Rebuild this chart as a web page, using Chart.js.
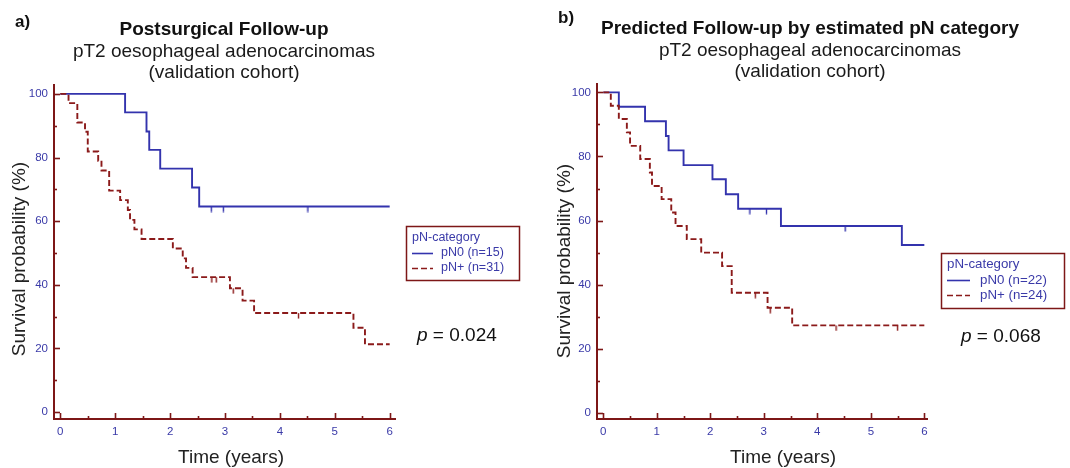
<!DOCTYPE html>
<html>
<head>
<meta charset="utf-8">
<script src="https://cdn.jsdelivr.net/npm/chart.js@4.4.0/dist/chart.umd.min.js"></script>
<style>
  html, body { margin: 0; padding: 0; background: #fff; }
  #wrap { position: relative; width: 1070px; height: 468px; }
  canvas { position: absolute; top: 0; }
</style>
</head>
<body>
<div id="wrap">
  <canvas id="kmA" width="535" height="468" style="left:0"></canvas>
  <canvas id="kmB" width="535" height="468" style="left:535px"></canvas>
</div>
<script>
/*---------------------------- data ----------------------------*/
var xTicks = [0, 1, 2, 3, 4, 5, 6];
var xMinorTicks = [0.5, 1.5, 2.5, 3.5, 4.5, 5.5];
var yTicks = [0, 20, 40, 60, 80, 100];
var yMinorTicks = [10, 30, 50, 70, 90];

// a) Postsurgical follow-up
var aN0Time = [0, 1.18, 1.57, 1.62, 1.82, 2.40, 2.53, 6.0];
var aN0Surv = [100, 94.2, 88.2, 82.4, 76.5, 70.6, 64.6, 64.6];
var aN0Cens = [2.75, 2.97, 4.51];
var aNpTime = [0, 0.15, 0.31, 0.45, 0.50, 0.69, 0.75, 0.89, 1.09, 1.23, 1.27, 1.35, 1.48,
               2.05, 2.23, 2.29, 2.41, 3.09, 3.32, 3.53, 5.34, 5.55, 6.0];
var aNpSurv = [100, 97.1, 91.0, 88.1, 81.9, 79.0, 75.9, 69.6, 66.6, 63.5, 60.4, 57.4, 54.4,
               51.4, 48.3, 45.3, 42.4, 38.9, 35.0, 31.1, 26.5, 21.3, 21.3];
var aNpCens = [2.76, 2.84, 3.15, 4.34];

// b) Predicted follow-up by estimated pN category
var bN0Time = [0, 0.29, 0.78, 1.17, 1.22, 1.50, 2.04, 2.29, 2.52, 3.32, 5.58, 6.0];
var bN0Surv = [100, 95.5, 91.0, 86.4, 81.9, 77.3, 72.9, 68.2, 63.7, 58.3, 52.4, 52.4];
var bN0Cens = [2.74, 3.05, 4.52];
var bNpTime = [0, 0.14, 0.29, 0.44, 0.50, 0.69, 0.87, 0.91, 1.09, 1.27, 1.35, 1.56, 1.83,
               2.22, 2.40, 3.07, 3.53, 6.0];
var bNpSurv = [100, 95.8, 91.7, 87.5, 83.3, 79.2, 75.0, 70.8, 66.7, 62.5, 58.3, 54.2, 50.0,
               45.8, 37.5, 32.8, 27.3, 27.3];
var bNpCens = [2.84, 3.12, 4.35, 5.50];

/*---------------------------- styling ----------------------------*/
var FONT = "'Liberation Sans', Arial, sans-serif";
var blue = '#3333ad';
var red = '#8b1a1a';
var axisRed = '#7d1717';
var tickBlue = '#3a3aa8';

// small downward tick used for censored cases
function censorMark(color) {
  var c = document.createElement('canvas');
  c.width = 3; c.height = 12;
  var g = c.getContext('2d');
  g.strokeStyle = color; g.lineWidth = 1.4;
  g.beginPath(); g.moveTo(1.5, 6); g.lineTo(1.5, 11.5); g.stroke();
  return c;
}
var blueMark = censorMark(blue);
var redMark = censorMark(red);

function survAt(times, surv, t) {
  var s = surv[0];
  for (var i = 0; i < times.length; i++) { if (times[i] <= t) s = surv[i]; }
  return s;
}
function pts(times, surv) {
  return times.map(function (t, i) { return { x: t, y: surv[i] }; });
}
function censPts(cens, times, surv) {
  return cens.map(function (t) { return { x: t, y: survAt(times, surv, t) }; });
}

function kmDatasets(n0T, n0S, n0C, npT, npS, npC, n0Label, npLabel) {
  return [
    { label: n0Label, data: pts(n0T, n0S), stepped: 'before', borderColor: blue,
      borderWidth: 1.9, pointRadius: 0, fill: false, order: 1 },
    { label: npLabel, data: pts(npT, npS), stepped: 'before', borderColor: red,
      borderWidth: 1.9, borderDash: [6, 3], pointRadius: 0, fill: false, order: 0 },
    { censor: true, data: censPts(n0C, n0T, n0S), showLine: false,
      pointStyle: blueMark, pointRadius: 5, order: 2 },
    { censor: true, data: censPts(npC, npT, npS), showLine: false,
      pointStyle: redMark, pointRadius: 5, order: 2 }
  ];
}

/*---------------------------- headings, axis titles, inner ticks, legend, p ----------------------------*/
var kmDecor = {
  id: 'kmDecor',
  afterDraw: function (chart, args, o) {
    var ctx = chart.ctx, ca = chart.chartArea;
    var xs = chart.scales.x, ys = chart.scales.y;
    ctx.save();

    // tick marks pointing into the plot
    ctx.strokeStyle = axisRed; ctx.lineWidth = 1.6;
    function xTick(v, len) {
      var px = Math.round(xs.getPixelForValue(v)) + 0.5;
      ctx.beginPath(); ctx.moveTo(px, ca.bottom); ctx.lineTo(px, ca.bottom - len); ctx.stroke();
    }
    function yTick(v, len) {
      var py = Math.round(ys.getPixelForValue(v)) + 0.5;
      ctx.beginPath(); ctx.moveTo(ca.left, py); ctx.lineTo(ca.left + len, py); ctx.stroke();
    }
    xTicks.forEach(function (v) { xTick(v, 6); });
    xMinorTicks.forEach(function (v) { xTick(v, 3); });
    yTicks.forEach(function (v) { yTick(v, 6); });
    yMinorTicks.forEach(function (v) { yTick(v, 3); });

    // axis titles
    ctx.fillStyle = '#222';
    ctx.font = '19px ' + FONT;
    ctx.textAlign = 'center';
    ctx.textBaseline = 'alphabetic';
    ctx.fillText('Time (years)', o.xTitleX, o.xTitleY);
    ctx.save();
    ctx.translate(o.yTitleX, o.yTitleY);
    ctx.rotate(-Math.PI / 2);
    ctx.textBaseline = 'middle';
    ctx.fillText('Survival probability (%)', 0, 0);
    ctx.restore();

    // headings
    ctx.fillStyle = '#111';
    ctx.textBaseline = 'alphabetic';
    ctx.textAlign = 'left';
    ctx.font = 'bold 17px ' + FONT;
    ctx.fillText(o.tag, o.tagX, o.tagY);
    ctx.textAlign = 'center';
    ctx.font = 'bold 19px ' + FONT;
    ctx.fillText(o.title, o.titleX, o.titleY);
    ctx.font = '19px ' + FONT;
    ctx.fillStyle = '#1a1a1a';
    o.subtitle.forEach(function (line, i) {
      ctx.fillText(line, o.titleX, o.subY + i * 21.5);
    });

    // legend box
    var L = o.legend;
    ctx.strokeStyle = axisRed; ctx.lineWidth = 1.5;
    ctx.strokeRect(L.x + 0.5, L.y + 0.5, L.w, L.h);
    ctx.textAlign = 'left'; ctx.textBaseline = 'middle';
    ctx.font = L.size + 'px ' + FONT;
    ctx.fillStyle = tickBlue;
    ctx.fillText('pN-category', L.x + 6, L.rows[0]);
    var entries = chart.data.datasets.filter(function (d) { return !d.censor; });
    entries.forEach(function (d, i) {
      var y = Math.round(L.rows[i + 1]) + 0.5;
      ctx.strokeStyle = d.borderColor; ctx.lineWidth = 1.6;
      ctx.setLineDash(d.borderDash || []);
      ctx.beginPath(); ctx.moveTo(L.x + 6, y); ctx.lineTo(L.x + 6 + L.sample, y); ctx.stroke();
      ctx.setLineDash([]);
      ctx.fillStyle = tickBlue;
      ctx.fillText(d.label, L.x + L.textOff, L.rows[i + 1]);
    });

    // log-rank p value
    ctx.fillStyle = '#111'; ctx.textBaseline = 'alphabetic';
    ctx.font = 'italic 19px ' + FONT;
    ctx.fillText('p', o.pX, o.pY);
    var w = ctx.measureText('p').width;
    ctx.font = '19px ' + FONT;
    ctx.fillText(' = ' + o.p, o.pX + w, o.pY);
    ctx.restore();
  }
};

function kmOptions(xr, yr, pad, yW, deco) {
  return {
    responsive: false,
    animation: false,
    devicePixelRatio: 1,
    layout: { padding: pad },
    plugins: { legend: { display: false }, tooltip: { enabled: false }, kmDecor: deco },
    scales: {
      x: {
        type: 'linear', min: xr[0], max: xr[1],
        grid: { display: false, drawTicks: false },
        border: { color: axisRed, width: 2 },
        afterBuildTicks: function (s) { s.ticks = xTicks.map(function (v) { return { value: v }; }); },
        afterFit: function (s) { s.height = 49; },
        ticks: { color: tickBlue, font: { family: FONT, size: 11.5 }, padding: 5.5, maxRotation: 0 }
      },
      y: {
        type: 'linear', min: yr[0], max: yr[1],
        grid: { display: false, drawTicks: false },
        border: { color: axisRed, width: 2 },
        afterBuildTicks: function (s) { s.ticks = yTicks.map(function (v) { return { value: v }; }); },
        afterFit: function (s) { s.width = yW; },
        ticks: { color: tickBlue, font: { family: FONT, size: 11.5 }, padding: 6 }
      }
    }
  };
}

/*---------------------------- a) ----------------------------*/
new Chart('kmA', {
  type: 'line',
  data: { datasets: kmDatasets(aN0Time, aN0Surv, aN0Cens, aNpTime, aNpSurv, aNpCens,
                               'pN0 (n=15)', 'pN+ (n=31)') },
  options: kmOptions([-0.115, 6.097], [-2.2, 102.8], { top: 85, right: 140, bottom: 0, left: 0 }, 54, {
    tag: 'a)', tagX: 15, tagY: 27,
    title: 'Postsurgical Follow-up', titleX: 224, titleY: 34.5,
    subtitle: ['pT2 oesophageal adenocarcinomas', '(validation cohort)'], subY: 56.7,
    xTitleX: 231, xTitleY: 463, yTitleX: 20, yTitleY: 259,
    legend: { x: 406, y: 226, w: 113, h: 54, size: 12.5, rows: [238, 253, 268], sample: 21, textOff: 35 },
    p: '0.024', pX: 417, pY: 341
  }),
  plugins: [kmDecor]
});

/*---------------------------- b) ----------------------------*/
new Chart('kmB', {
  type: 'line',
  data: { datasets: kmDatasets(bN0Time, bN0Surv, bN0Cens, bNpTime, bNpSurv, bNpCens,
                               'pN0 (n=22)', 'pN+ (n=24)') },
  options: kmOptions([-0.118, 6.05], [-1.9, 102.6], { top: 84, right: 143, bottom: 0, left: 0 }, 62, {
    tag: 'b)', tagX: 23, tagY: 23,
    title: 'Predicted Follow-up by estimated pN category', titleX: 275, titleY: 33.5,
    subtitle: ['pT2 oesophageal adenocarcinomas', '(validation cohort)'], subY: 55.7,
    xTitleX: 248, xTitleY: 463, yTitleX: 29.5, yTitleY: 261,
    legend: { x: 406, y: 253, w: 123, h: 55, size: 13.3, rows: [264, 280, 295], sample: 23, textOff: 39 },
    p: '0.068', pX: 426, pY: 342
  }),
  plugins: [kmDecor]
});
</script>
</body>
</html>
